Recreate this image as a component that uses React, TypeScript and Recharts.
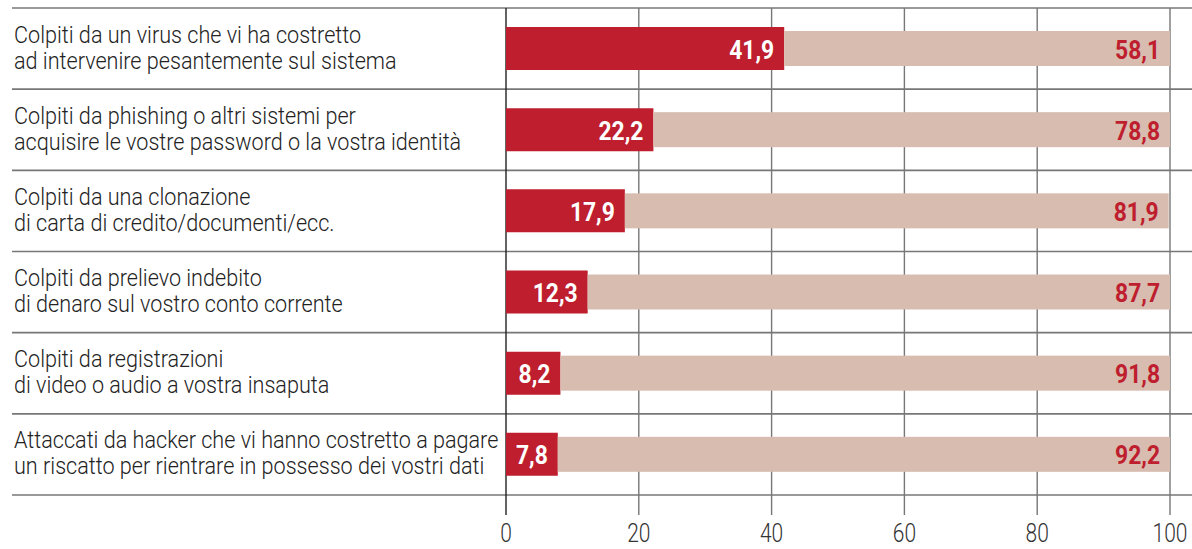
import { BarChart, Bar, XAxis, YAxis, CartesianGrid, LabelList } from 'recharts';

// Category labels, two lines each
const categories = [
  ['Colpiti da un virus che vi ha costretto', 'ad intervenire pesantemente sul sistema'],
  ['Colpiti da phishing o altri sistemi per', 'acquisire le vostre password o la vostra identità'],
  ['Colpiti da una clonazione', 'di carta di credito/documenti/ecc.'],
  ['Colpiti da prelievo indebito', 'di denaro sul vostro conto corrente'],
  ['Colpiti da registrazioni', 'di video o audio a vostra insaputa'],
  ['Attaccati da hacker che vi hanno costretto a pagare', 'un riscatto per rientrare in possesso dei vostri dati'],
];

const yesValues = [41.9, 22.2, 17.9, 12.3, 8.2, 7.8];
const noValues = [58.1, 78.8, 81.9, 87.7, 91.8, 92.2];

const xTicks = [0, 20, 40, 60, 80, 100];

const RED = '#BE1E2D';
const BEIGE = '#D8BCB0';
const FONT = 'Roboto, "Liberation Sans", sans-serif';

const data = categories.map((lines, i) => ({
  name: lines.join('\n'),
  yes: yesValues[i],
  no: noValues[i],
}));

// beige bar is a bit thinner than the red one
const ThinBar = (props: any) => {
  const { x, y, width, height, fill } = props;
  const inset = 4;
  return <rect x={x} y={y + inset} width={Math.max(width, 0)} height={height - inset * 2} fill={fill} />;
};

// condensed look: squeeze text horizontally
const valueLabel = (color: string) => (props: any) => {
  const { x, y, width, height, value } = props;
  return (
    <text
      transform={`translate(${x + width - 10},${y + height / 2 + 1}) scale(0.88,1)`}
      textAnchor="end"
      dominantBaseline="central"
      fill={color}
      fontFamily={FONT}
      fontWeight="bold"
      fontSize={26}
    >
      {String(value).replace('.', ',')}
    </text>
  );
};

const CategoryTick = (props: any) => {
  const { y, payload } = props;
  const lines = String(payload.value).split('\n');
  return (
    <text
      transform={`translate(14,${y - 6}) scale(0.9,1)`}
      fill="#222"
      fontFamily={FONT}
      fontWeight={300}
      fontSize={24}
    >
      {lines.map((l, i) => (
        <tspan key={i} x={0} dy={i === 0 ? 0 : 26}>
          {l}
        </tspan>
      ))}
    </text>
  );
};

const ValueTick = (props: any) => {
  const { x, y, payload } = props;
  return (
    <text
      transform={`translate(${x},${y + 47}) scale(0.84,1)`}
      textAnchor="middle"
      fill="#333"
      fontFamily={FONT}
      fontWeight={300}
      fontSize={25}
    >
      {payload.value}
    </text>
  );
};

export default function App() {
  return (
    <div style={{ position: 'absolute', left: 0, top: 0, background: '#fff' }}>
      <BarChart
        width={1192}
        height={549}
        data={data}
        layout="vertical"
        margin={{ top: 8, right: 22, bottom: 0, left: 0 }}
        barSize={43}
      >
        <CartesianGrid
          horizontalCoordinatesGenerator={({ offset }: any) =>
            categories.map((_, i) => offset.top + (i * offset.height) / categories.length).concat(offset.top + offset.height)
          }
          horizontal={(p: any) => (
            <line key={`h-${p.index}`} x1={12} x2={1192} y1={p.y1} y2={p.y2} stroke="#777" strokeWidth={1.6} />
          )}
          vertical={(p: any) => (
            <line
              key={`v-${p.index}`}
              x1={p.x1}
              x2={p.x2}
              y1={p.y1}
              y2={p.y2 + 20}
              stroke={p.index === 0 ? '#222' : '#777'}
              strokeWidth={1.4}
            />
          )}
        />
        <XAxis
          type="number"
          domain={[0, 100]}
          allowDataOverflow
          ticks={xTicks}
          height={54}
          tickLine={false}
          axisLine={false}
          tickSize={0}
          tickMargin={0}
          tick={<ValueTick />}
        />
        <YAxis
          type="category"
          dataKey="name"
          width={506}
          tickLine={false}
          axisLine={false}
          tickSize={0}
          tick={<CategoryTick />}
          interval={0}
        />
        <Bar dataKey="yes" stackId="a" fill={RED} isAnimationActive={false}>
          <LabelList dataKey="yes" content={valueLabel('#fff')} />
        </Bar>
        <Bar dataKey="no" stackId="a" fill={BEIGE} shape={<ThinBar />} isAnimationActive={false}>
          <LabelList dataKey="no" content={valueLabel(RED)} />
        </Bar>
      </BarChart>
    </div>
  );
}
